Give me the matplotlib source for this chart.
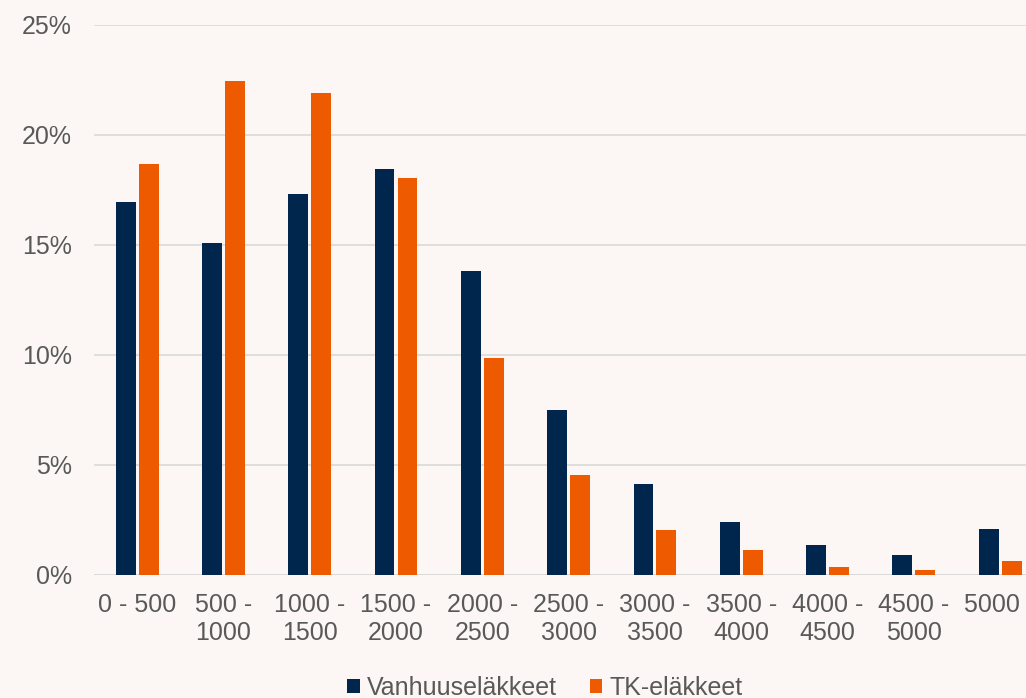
import numpy as np
import matplotlib.pyplot as plt

# Data (share of pensioners, %)
categories = ["0 - 500", "500 -\n1000", "1000 -\n1500", "1500 -\n2000",
              "2000 -\n2500", "2500 -\n3000", "3000 -\n3500", "3500 -\n4000",
              "4000 -\n4500", "4500 -\n5000", "5000 -"]
vanhuus = [16.95, 15.1, 17.3, 18.45, 13.8, 7.5, 4.15, 2.4, 1.35, 0.9, 2.1]
tk = [18.7, 22.45, 21.9, 18.05, 9.85, 4.55, 2.05, 1.15, 0.35, 0.25, 0.65]
yticks = [0, 5, 10, 15, 20, 25]

bg = "#fcf7f4"
navy = "#00264d"
orange = "#ee5a00"
txt = "#595959"

plt.rcParams['font.family'] = ['Liberation Sans', 'DejaVu Sans']

fig = plt.figure(figsize=(10.26, 6.98), dpi=100, facecolor=bg)
ax = fig.add_axes([94 / 1026, 1 - 575 / 698, 1 - 94 / 1026, 550 / 698])
ax.set_facecolor(bg)

x = np.arange(len(categories))
w = 0.23
ax.bar(x - 0.133, vanhuus, w, color=navy, label="Vanhuuseläkkeet", zorder=3)
ax.bar(x + 0.133, tk, w, color=orange, label="TK-eläkkeet", zorder=3)

ax.set_xlim(-0.5, 10.3)
ax.set_ylim(0, 25)
ax.set_yticks(yticks)
ax.set_yticklabels([f"{v}%" for v in yticks])
ax.set_xticks(x)
ax.set_xticklabels(categories, linespacing=1.2)
ax.grid(axis='y', color="#d9d9d9", linewidth=1.2, zorder=0)
ax.tick_params(length=0, labelsize=18, colors=txt)
ax.tick_params(axis='y', pad=16)
ax.tick_params(axis='x', pad=13)
for s in ax.spines.values():
    s.set_visible(False)
ax.axhline(0, color="#d9d9d9", linewidth=1.2, zorder=2)

fig.legend(loc='center', bbox_to_anchor=(545 / 1026, 1 - 688 / 698), ncol=2,
           frameon=False, fontsize=18, labelcolor=txt, handlelength=0.5,
           handleheight=0.5, handletextpad=0.3, columnspacing=1.3)

fig.savefig("out.png", dpi=100, facecolor=bg)
